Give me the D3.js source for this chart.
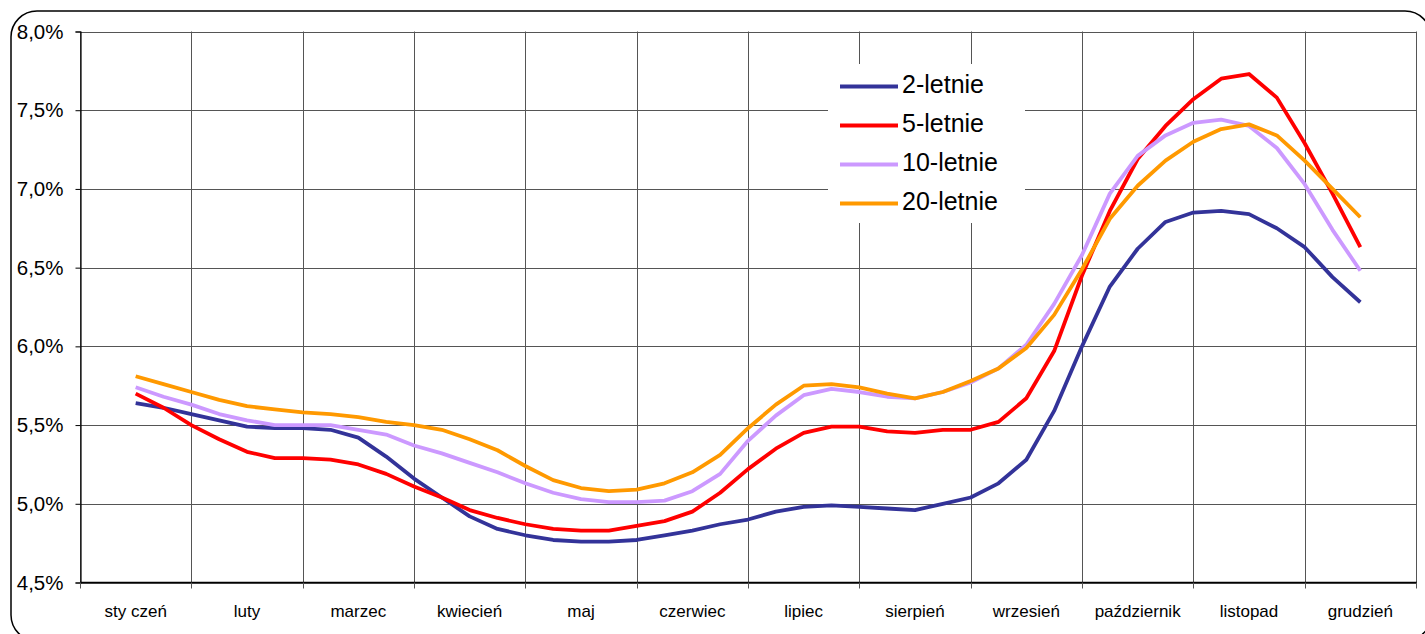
<!DOCTYPE html>
<html>
<head>
<meta charset="utf-8">
<script src="https://cdn.jsdelivr.net/npm/d3@7"></script>
<style>
  html, body { margin: 0; padding: 0; background: #fff; }
  svg { display: block; font-family: "Liberation Sans", Arial, sans-serif; }
</style>
</head>
<body>
<svg id="chart" width="1425" height="634"></svg>
<script>
const months = ["sty czeń", "luty", "marzec", "kwiecień", "maj", "czerwiec", "lipiec", "sierpień", "wrzesień", "październik", "listopad", "grudzień"];
const yTicks = [4.5, 5.0, 5.5, 6.0, 6.5, 7.0, 7.5, 8.0];
const seriesNames = ["2-letnie", "5-letnie", "10-letnie", "20-letnie"];
const seriesColors = ["#333399", "#FF0000", "#CC99FF", "#FF9900"];

// weekly observations (4 per month, from mid-January to mid-December), in %
const y2 = [5.64, 5.61, 5.57, 5.53, 5.49, 5.48, 5.48, 5.47, 5.42, 5.30, 5.16, 5.04,
            4.92, 4.84, 4.80, 4.77, 4.76, 4.76, 4.77, 4.80, 4.83, 4.87, 4.90, 4.95,
            4.98, 4.99, 4.98, 4.97, 4.96, 5.00, 5.04, 5.13, 5.28, 5.59, 6.00, 6.38,
            6.62, 6.79, 6.85, 6.86, 6.84, 6.75, 6.63, 6.44, 6.28];
const y5 = [5.70, 5.61, 5.50, 5.41, 5.33, 5.29, 5.29, 5.28, 5.25, 5.19, 5.11, 5.04,
            4.96, 4.91, 4.87, 4.84, 4.83, 4.83, 4.86, 4.89, 4.95, 5.07, 5.22, 5.35,
            5.45, 5.49, 5.49, 5.46, 5.45, 5.47, 5.47, 5.52, 5.67, 5.97, 6.45, 6.86,
            7.19, 7.40, 7.57, 7.70, 7.73, 7.58, 7.29, 6.97, 6.63];
const y10 = [5.74, 5.68, 5.63, 5.57, 5.53, 5.50, 5.50, 5.50, 5.47, 5.44, 5.37, 5.32,
             5.26, 5.20, 5.13, 5.07, 5.03, 5.01, 5.01, 5.02, 5.08, 5.19, 5.40, 5.56,
             5.69, 5.73, 5.71, 5.68, 5.67, 5.71, 5.77, 5.86, 6.01, 6.27, 6.58, 6.97,
             7.21, 7.34, 7.42, 7.44, 7.40, 7.26, 7.03, 6.74, 6.48];
const y20 = [5.81, 5.76, 5.71, 5.66, 5.62, 5.60, 5.58, 5.57, 5.55, 5.52, 5.50, 5.47,
             5.41, 5.34, 5.24, 5.15, 5.10, 5.08, 5.09, 5.13, 5.20, 5.31, 5.48, 5.63,
             5.75, 5.76, 5.74, 5.70, 5.67, 5.71, 5.78, 5.86, 5.99, 6.20, 6.49, 6.81,
             7.02, 7.18, 7.30, 7.38, 7.41, 7.34, 7.18, 7.00, 6.82];
const seriesValues = [y2, y5, y10, y20];

const svg = d3.select("#chart");
const L = 80, R = 1416, T = 31.5, B = 582.5;

// outer rounded frame
svg.append("rect")
  .attr("x", 11).attr("y", 11).attr("width", 1420).attr("height", 630)
  .attr("rx", 26).attr("ry", 26)
  .attr("fill", "#fff").attr("stroke", "#000").attr("stroke-width", 1.5);

const x = d3.scaleLinear().domain([0, months.length]).range([L, R]);
const xBand = d3.scaleBand().domain(months).range([L, R]);
const y = d3.scaleLinear().domain([4.5, 8.0]).range([B, T]);

const grid = svg.append("g");
grid.selectAll("line.h").data(yTicks).join("line")
  .attr("x1", L).attr("x2", R)
  .attr("y1", d => Math.round(y(d)) + 0.5).attr("y2", d => Math.round(y(d)) + 0.5)
  .attr("stroke", "#555").attr("stroke-width", 1);
grid.selectAll("line.v").data(d3.range(months.length + 1)).join("line")
  .attr("x1", d => Math.round(x(d)) + 0.5).attr("x2", d => Math.round(x(d)) + 0.5)
  .attr("y1", T).attr("y2", B)
  .attr("stroke", "#555").attr("stroke-width", 1);

// y axis
const yAxis = d3.axisLeft(y).tickValues(yTicks).tickSize(5).tickPadding(12)
  .tickFormat(d => d3.format(".1f")(d).replace(".", ",") + "%");
const gy = svg.append("g").attr("transform", `translate(${L + 0.5},0)`).call(yAxis);
gy.select(".domain").attr("stroke", "#000").attr("stroke-width", 1.2);
gy.selectAll(".tick line").attr("stroke", "#000");
gy.selectAll(".tick text").attr("font-size", 20.5).attr("fill", "#000")
  .attr("font-family", "'Liberation Sans', Arial, sans-serif");

// x axis
const gx = svg.append("g").attr("transform", `translate(0,${B})`);
gx.append("line").attr("x1", L).attr("x2", R + 1).attr("y1", 0).attr("y2", 0)
  .attr("stroke", "#000").attr("stroke-width", 1.5);
gx.selectAll("line.t").data(d3.range(months.length + 1)).join("line")
  .attr("x1", d => Math.round(x(d)) + 0.5).attr("x2", d => Math.round(x(d)) + 0.5)
  .attr("y1", 0).attr("y2", 6).attr("stroke", "#555");
gx.selectAll("text").data(months).join("text")
  .attr("x", d => xBand(d) + xBand.bandwidth() / 2)
  .attr("y", 34.5)
  .attr("text-anchor", "middle")
  .attr("font-size", 17).attr("fill", "#000")
  .text(d => d);

// lines
const line = d3.line()
  .x((d, i) => x(0.5 + i * 0.25))
  .y(d => y(d));
svg.append("g").selectAll("path").data(seriesValues).join("path")
  .attr("d", d => line(d))
  .attr("fill", "none")
  .attr("stroke", (d, i) => seriesColors[i])
  .attr("stroke-width", 3.8)
  .attr("stroke-linejoin", "round");

// legend
const lg = svg.append("g");
lg.append("rect").attr("x", 828).attr("y", 64).attr("width", 197).attr("height", 159).attr("fill", "#fff");
const items = lg.selectAll("g.item").data(seriesNames).join("g")
  .attr("transform", (d, i) => `translate(0,${86.5 + i * 39})`);
items.append("line").attr("x1", 840).attr("x2", 898).attr("y1", 0).attr("y2", 0)
  .attr("stroke", (d, i) => seriesColors[i]).attr("stroke-width", 3.8);
items.append("text").attr("x", 902).attr("y", -2).attr("dy", "0.35em")
  .attr("font-size", 25).attr("fill", "#000").text(d => d);
</script>
</body>
</html>
